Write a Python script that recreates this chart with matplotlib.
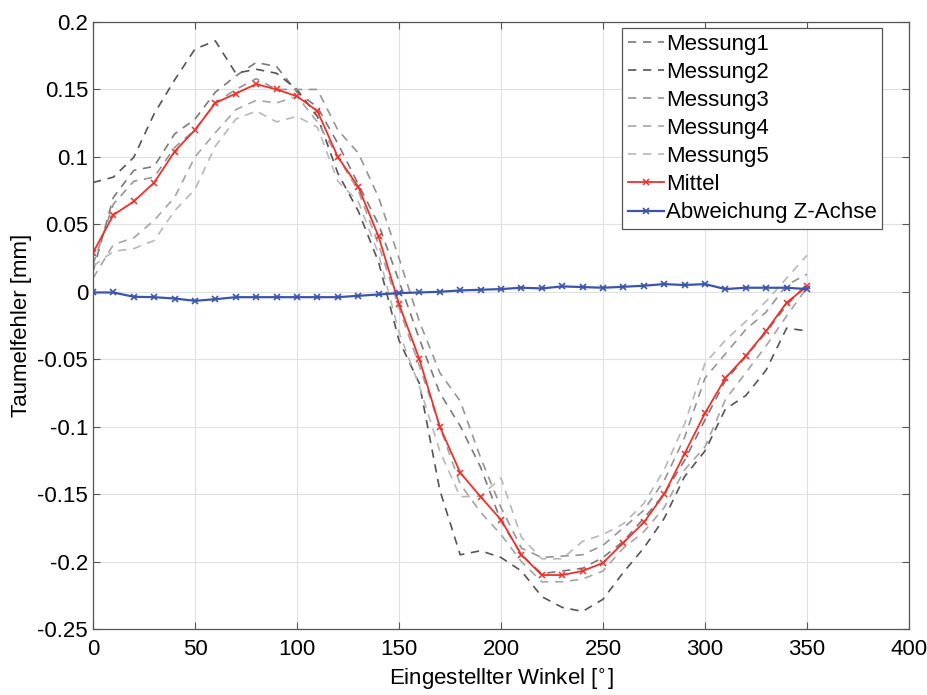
import matplotlib
matplotlib.use("Agg")
import matplotlib.pyplot as plt
from matplotlib.ticker import FuncFormatter, MultipleLocator

plt.rcParams["font.family"] = ["Liberation Sans", "DejaVu Sans"]

# Winkel in Grad, Schritt 10
winkel = list(range(0, 360, 10))

messung1 = [0.015, 0.070, 0.090, 0.093, 0.117, 0.128, 0.148, 0.160, 0.170, 0.167,
            0.148, 0.137, 0.110, 0.080, 0.050, 0.008, -0.035, -0.075, -0.0995, -0.130,
            -0.170, -0.195, -0.209, -0.207, -0.205, -0.197, -0.185, -0.168, -0.150, -0.125,
            -0.095, -0.066, -0.048, -0.030, -0.010, 0.006]
messung2 = [0.081, 0.085, 0.0997, 0.132, 0.157, 0.180, 0.186, 0.162, 0.165, 0.162,
            0.150, 0.130, 0.088, 0.060, 0.022, -0.036, -0.068, -0.147, -0.195, -0.192,
            -0.197, -0.207, -0.226, -0.234, -0.237, -0.228, -0.208, -0.190, -0.168, -0.137,
            -0.118, -0.087, -0.077, -0.058, -0.027, -0.029]
messung3 = [0.020, 0.065, 0.082, 0.085, 0.107, 0.120, 0.140, 0.150, 0.158, 0.150,
            0.150, 0.150, 0.120, 0.103, 0.070, 0.025, -0.022, -0.060, -0.081, -0.123,
            -0.160, -0.190, -0.197, -0.196, -0.195, -0.188, -0.175, -0.162, -0.140, -0.108,
            -0.064, -0.046, -0.028, -0.015, 0.005, 0.013]
messung4 = [0.010, 0.035, 0.040, 0.053, 0.070, 0.100, 0.118, 0.135, 0.142, 0.140,
            0.145, 0.126, 0.100, 0.075, 0.035, -0.012, -0.055, -0.100, -0.1425, -0.1635,
            -0.180, -0.200, -0.215, -0.215, -0.213, -0.207, -0.190, -0.178, -0.160, -0.132,
            -0.115, -0.080, -0.060, -0.040, -0.018, 0.003]
messung5 = [0.019, 0.030, 0.032, 0.038, 0.060, 0.076, 0.108, 0.128, 0.134, 0.126,
            0.130, 0.122, 0.082, 0.067, 0.028, -0.030, -0.070, -0.118, -0.152, -0.1515,
            -0.138, -0.182, -0.198, -0.198, -0.185, -0.180, -0.172, -0.157, -0.132, -0.098,
            -0.053, -0.036, -0.022, -0.007, 0.010, 0.027]
mittel = [0.029, 0.057, 0.067, 0.081, 0.104, 0.120, 0.140, 0.147, 0.154, 0.150,
          0.145, 0.134, 0.100, 0.078, 0.041, -0.009, -0.050, -0.100, -0.134, -0.152,
          -0.169, -0.195, -0.210, -0.210, -0.207, -0.201, -0.186, -0.171, -0.150, -0.120,
          -0.090, -0.064, -0.0475, -0.029, -0.008, 0.004]
abweichung_z = [-0.0005, -0.0005, -0.0037, -0.004, -0.005, -0.0067, -0.0055, -0.004, -0.004, -0.004,
                -0.004, -0.004, -0.004, -0.003, -0.002, -0.001, -0.0005, 0.0, 0.001, 0.0015,
                0.002, 0.003, 0.0025, 0.004, 0.0035, 0.003, 0.0037, 0.0045, 0.0057, 0.005,
                0.0057, 0.002, 0.003, 0.003, 0.003, 0.002]

messungen = [("Messung1", messung1, "#7a7a7a"),
             ("Messung2", messung2, "#555555"),
             ("Messung3", messung3, "#959595"),
             ("Messung4", messung4, "#a5a5a5"),
             ("Messung5", messung5, "#b8b8b8")]


def ytick_fmt(v, pos):
    return "0" if abs(v) < 1e-9 else f"{round(v, 4):g}"


fig = plt.figure(figsize=(9.28, 6.95), dpi=100)
ax = fig.add_axes([0.1002, 0.0950, 0.8793, 0.8733])

for name, vals, col in messungen:
    ax.plot(winkel, vals, "--", color=col, lw=1.2, dashes=(5, 4), label=name)
ax.plot(winkel, mittel, "-x", color="#f0302a", lw=1.3, ms=5, mew=1.1, label="Mittel")
ax.plot(winkel, abweichung_z, "-x", color="#3a55b0", lw=1.6, ms=5, mew=1.2, label="Abweichung Z-Achse")

ax.set_xlim(0, 400)
ax.set_ylim(-0.25, 0.2)
ax.xaxis.set_major_locator(MultipleLocator(50))
ax.yaxis.set_major_locator(MultipleLocator(0.05))
ax.yaxis.set_major_formatter(FuncFormatter(ytick_fmt))
ax.grid(True, color="#e0e0e0", lw=0.8)
ax.set_axisbelow(True)
ax.tick_params(direction="in", top=True, right=True, labelsize=16, length=5, color="#555555")
ax.tick_params(axis="x", pad=7)
for s in ax.spines.values():
    s.set_color("#555555")
    s.set_linewidth(0.9)

ax.set_xlabel("Eingestellter Winkel [$^{\\circ}$]", fontsize=16, labelpad=5)
ax.set_ylabel("Taumelfehler [mm]", fontsize=16, labelpad=4)

leg = ax.legend(loc="upper right", bbox_to_anchor=(0.967, 0.99), fontsize=16, handlelength=1.6,
                handletextpad=0.1, labelspacing=0.32, borderpad=0.25, borderaxespad=0.0,
                fancybox=False, framealpha=1, edgecolor="#555555")
leg.get_frame().set_linewidth(0.9)

fig.savefig("out.png", dpi=100)
